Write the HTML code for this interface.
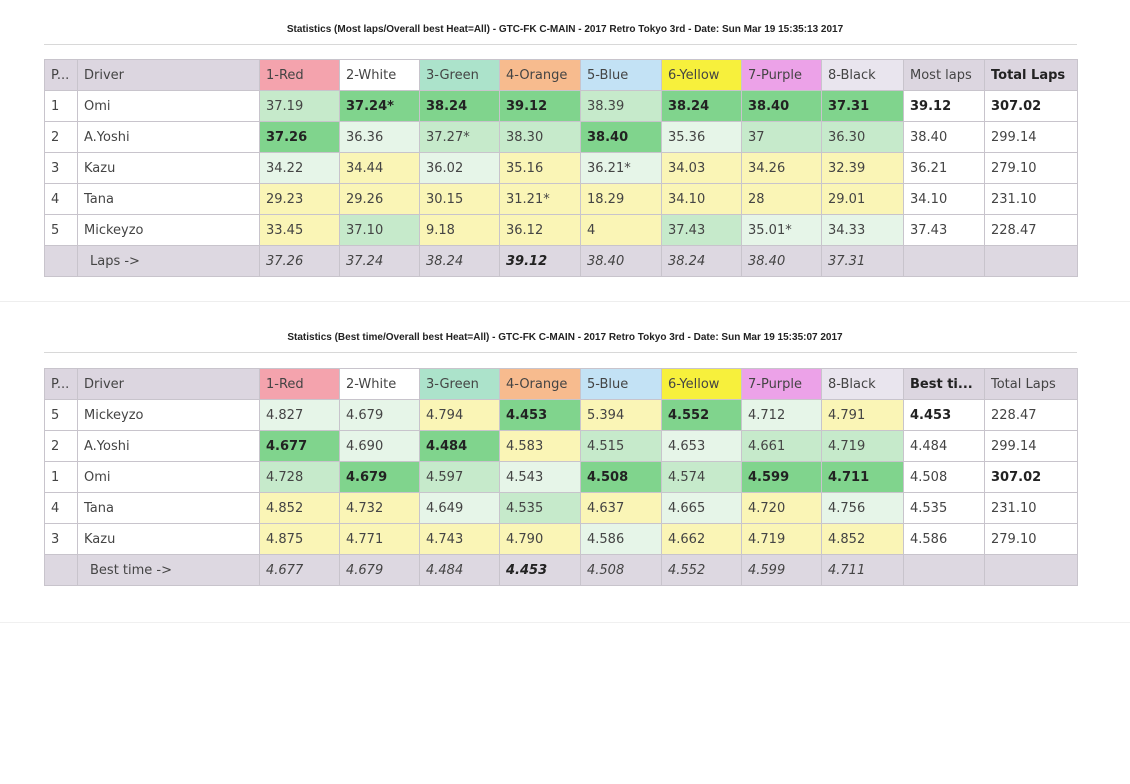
<!DOCTYPE html>
<html><head><meta charset="utf-8"><style>
body{margin:0;width:1130px;height:784px;background:#fff;position:relative;overflow:hidden;font-family:"DejaVu Sans","Liberation Sans",sans-serif;}
.title{position:absolute;left:0;width:1130px;text-align:center;font:bold 10px "Liberation Sans",sans-serif;color:#222;}
.rule{position:absolute;left:44px;width:1033px;height:1px;background:#d8d8d8;}
table{position:absolute;left:44px;border-collapse:collapse;table-layout:fixed;width:1033px;font-size:13px;color:#444;}
td{border:1px solid #c8c4cc;height:30px;padding:0 0 0 6px;white-space:nowrap;overflow:hidden;}
tr.h td{background:#dcd6e0;}
.r{background:#f4a3ad!important}.w{background:#fff!important}.gh{background:#ace3cb!important}.o{background:#f7bb8e!important}
.bl{background:#c3e2f5!important}.ye{background:#f7f03c!important}.pu{background:#eca2e8!important}.bk{background:#e9e5ee!important}
.G{background:#80d48d;font-weight:bold;color:#222}.M{background:#c6eacb}.L{background:#e6f5e8}.Y{background:#faf5b6}
tr.f td{background:#ddd8e1;font-style:italic}
.b{font-weight:bold;color:#222}
.sep{position:absolute;left:0;top:301px;width:1130px;height:1px;background:#eee}
</style></head><body>
<div class="title" style="top:24px">Statistics (Most laps/Overall best Heat=All) - GTC-FK C-MAIN - 2017 Retro Tokyo 3rd - Date: Sun Mar 19 15:35:13 2017</div>
<div class="rule" style="top:44px"></div>
<table style="top:59px">
<colgroup><col style="width:33px"><col style="width:182px"><col style="width:80px"><col style="width:80px"><col style="width:80px"><col style="width:81px"><col style="width:81px"><col style="width:80px"><col style="width:80px"><col style="width:82px"><col style="width:81px"><col style="width:93px"></colgroup>
<tr class="h"><td>P...</td><td>Driver</td><td class="r">1-Red</td><td class="w">2-White</td><td class="gh">3-Green</td><td class="o">4-Orange</td><td class="bl">5-Blue</td><td class="ye">6-Yellow</td><td class="pu">7-Purple</td><td class="bk">8-Black</td><td>Most laps</td><td class="b">Total Laps</td></tr>
<tr><td>1</td><td>Omi</td><td class="M">37.19</td><td class="G">37.24*</td><td class="G">38.24</td><td class="G">39.12</td><td class="M">38.39</td><td class="G">38.24</td><td class="G">38.40</td><td class="G">37.31</td><td class="b">39.12</td><td class="b">307.02</td></tr>
<tr><td>2</td><td>A.Yoshi</td><td class="G">37.26</td><td class="L">36.36</td><td class="M">37.27*</td><td class="M">38.30</td><td class="G">38.40</td><td class="L">35.36</td><td class="M">37</td><td class="M">36.30</td><td>38.40</td><td>299.14</td></tr>
<tr><td>3</td><td>Kazu</td><td class="L">34.22</td><td class="Y">34.44</td><td class="L">36.02</td><td class="Y">35.16</td><td class="L">36.21*</td><td class="Y">34.03</td><td class="Y">34.26</td><td class="Y">32.39</td><td>36.21</td><td>279.10</td></tr>
<tr><td>4</td><td>Tana</td><td class="Y">29.23</td><td class="Y">29.26</td><td class="Y">30.15</td><td class="Y">31.21*</td><td class="Y">18.29</td><td class="Y">34.10</td><td class="Y">28</td><td class="Y">29.01</td><td>34.10</td><td>231.10</td></tr>
<tr><td>5</td><td>Mickeyzo</td><td class="Y">33.45</td><td class="M">37.10</td><td class="Y">9.18</td><td class="Y">36.12</td><td class="Y">4</td><td class="M">37.43</td><td class="L">35.01*</td><td class="L">34.33</td><td>37.43</td><td>228.47</td></tr>
<tr class="f"><td></td><td style="font-style:normal;padding-left:12px">Laps -&gt;</td><td>37.26</td><td>37.24</td><td>38.24</td><td class="b">39.12</td><td>38.40</td><td>38.24</td><td>38.40</td><td>37.31</td><td></td><td></td></tr>
</table>
<div class="sep"></div>
<div class="title" style="top:332px">Statistics (Best time/Overall best Heat=All) - GTC-FK C-MAIN - 2017 Retro Tokyo 3rd - Date: Sun Mar 19 15:35:07 2017</div>
<div class="rule" style="top:352px"></div>
<table style="top:368px">
<colgroup><col style="width:33px"><col style="width:182px"><col style="width:80px"><col style="width:80px"><col style="width:80px"><col style="width:81px"><col style="width:81px"><col style="width:80px"><col style="width:80px"><col style="width:82px"><col style="width:81px"><col style="width:93px"></colgroup>
<tr class="h"><td>P...</td><td>Driver</td><td class="r">1-Red</td><td class="w">2-White</td><td class="gh">3-Green</td><td class="o">4-Orange</td><td class="bl">5-Blue</td><td class="ye">6-Yellow</td><td class="pu">7-Purple</td><td class="bk">8-Black</td><td class="b">Best ti...</td><td>Total Laps</td></tr>
<tr><td>5</td><td>Mickeyzo</td><td class="L">4.827</td><td class="L">4.679</td><td class="Y">4.794</td><td class="G">4.453</td><td class="Y">5.394</td><td class="G">4.552</td><td class="L">4.712</td><td class="Y">4.791</td><td class="b">4.453</td><td>228.47</td></tr>
<tr><td>2</td><td>A.Yoshi</td><td class="G">4.677</td><td class="L">4.690</td><td class="G">4.484</td><td class="Y">4.583</td><td class="M">4.515</td><td class="L">4.653</td><td class="M">4.661</td><td class="M">4.719</td><td>4.484</td><td>299.14</td></tr>
<tr><td>1</td><td>Omi</td><td class="M">4.728</td><td class="G">4.679</td><td class="M">4.597</td><td class="L">4.543</td><td class="G">4.508</td><td class="M">4.574</td><td class="G">4.599</td><td class="G">4.711</td><td>4.508</td><td class="b">307.02</td></tr>
<tr><td>4</td><td>Tana</td><td class="Y">4.852</td><td class="Y">4.732</td><td class="L">4.649</td><td class="M">4.535</td><td class="Y">4.637</td><td class="L">4.665</td><td class="Y">4.720</td><td class="L">4.756</td><td>4.535</td><td>231.10</td></tr>
<tr><td>3</td><td>Kazu</td><td class="Y">4.875</td><td class="Y">4.771</td><td class="Y">4.743</td><td class="Y">4.790</td><td class="L">4.586</td><td class="Y">4.662</td><td class="Y">4.719</td><td class="Y">4.852</td><td>4.586</td><td>279.10</td></tr>
<tr class="f"><td></td><td style="font-style:normal;padding-left:12px">Best time -&gt;</td><td>4.677</td><td>4.679</td><td>4.484</td><td class="b">4.453</td><td>4.508</td><td>4.552</td><td>4.599</td><td>4.711</td><td></td><td></td></tr>
</table>
<div style="position:absolute;left:0;top:622px;width:1130px;height:1px;background:#f0f0f0"></div>
</body></html>
